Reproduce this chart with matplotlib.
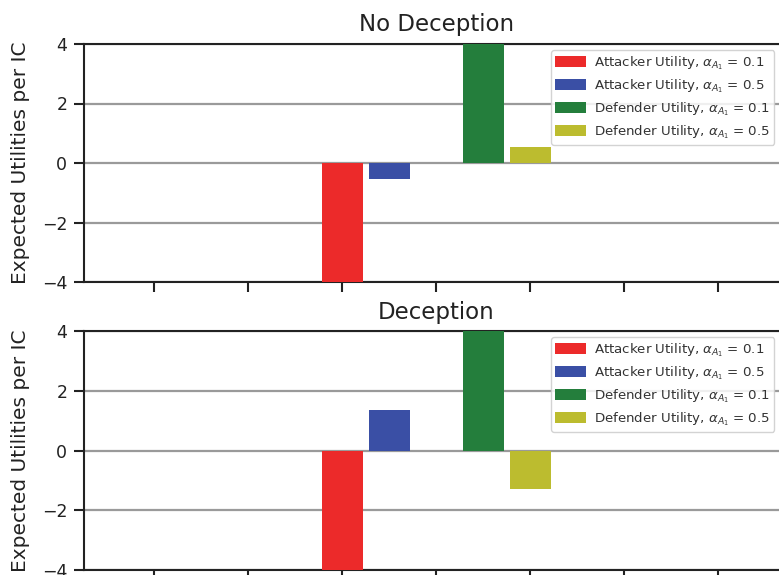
import matplotlib
matplotlib.use("Agg")
import matplotlib.pyplot as plt

# Bar positions and expected utilities per IC
series_labels = [
    r"Attacker Utility, $\alpha_{A_1}$ = 0.1",
    r"Attacker Utility, $\alpha_{A_1}$ = 0.5",
    r"Defender Utility, $\alpha_{A_1}$ = 0.1",
    r"Defender Utility, $\alpha_{A_1}$ = 0.5",
]
series_colors = ["#ec2a2a", "#3a4fa5", "#247e3c", "#bcbc2f"]
bar_positions = [0.0, 0.5, 1.5, 2.0]
no_deception = [-4.0, -0.55, 4.0, 0.55]
deception = [-4.0, 1.37, 4.0, -1.3]
panel_titles = ["No Deception", "Deception"]
x_ticks = [-2, -1, 0, 1, 2, 3, 4]

W, H = 779, 575
fig = plt.figure(figsize=(W / 100, H / 100), dpi=100)

def px_axes(left, top, right, bottom):
    return fig.add_axes([left / W, 1 - bottom / H, (right - left) / W, (bottom - top) / H])

panels = [(px_axes(84, 44, 789, 282), 50), (px_axes(84, 331, 789, 570), 337)]

for (ax, leg_top), vals, title in zip(panels, [no_deception, deception], panel_titles):
    for x, v, c, lab in zip(bar_positions, vals, series_colors, series_labels):
        ax.bar(x, v, width=0.43, color=c, label=lab, zorder=3)
    ax.set_xlim(-2.75, 4.75)
    ax.set_ylim(-4, 4)
    ax.set_yticks([-4, -2, 0, 2, 4])
    ax.set_yticklabels(["\u22124", "\u22122", "0", "2", "4"])
    ax.set_xticks(x_ticks)
    ax.set_xticklabels([])
    ax.yaxis.grid(True, color="#9a9a9a", linewidth=1.6, zorder=0)
    ax.set_axisbelow(True)
    for s in ax.spines.values():
        s.set_color("#222222")
        s.set_linewidth(1.5)
    ax.tick_params(axis="both", direction="out", length=7, width=1.5, pad=5,
                   color="#222222", labelsize=12.5, labelcolor="#222222")
    ax.set_title(title, fontsize=16.5, pad=9, color="#222222")
    ax.set_ylabel("Expected Utilities per IC", fontsize=14.5, color="#222222")
    ax.yaxis.set_label_coords(-0.077, 0.5)
    leg = ax.legend(loc="upper left", bbox_to_anchor=(551 / W, 1 - leg_top / H),
                    bbox_transform=fig.transFigure, borderaxespad=0,
                    fontsize=9.6, labelspacing=0.42, handlelength=2.3,
                    handleheight=0.9, handletextpad=0.65, borderpad=0.3,
                    frameon=True, fancybox=True, framealpha=0.85,
                    edgecolor="#cccccc")
    for t in leg.get_texts():
        t.set_color("#333333")

fig.savefig("out.png", dpi=100)
